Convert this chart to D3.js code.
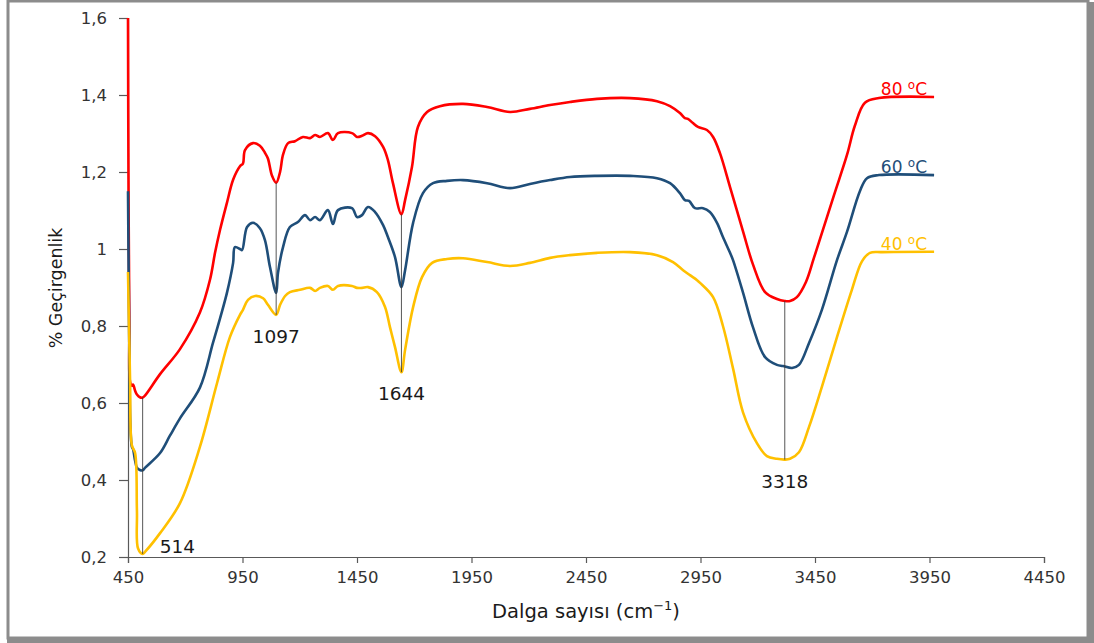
<!DOCTYPE html>
<html>
<head>
<meta charset="utf-8">
<script src="https://cdn.jsdelivr.net/npm/d3@7"></script>
<style>
  html, body { margin: 0; padding: 0; background: #ffffff; }
  svg { display: block; }
  text { font-family: "DejaVu Sans", Verdana, sans-serif; }
</style>
</head>
<body>
<svg id="chart" width="1094" height="643"></svg>
<script>
// FTIR transmittance spectra at three drying temperatures
const wn80 = [450, 452, 456, 459, 467, 472, 481, 489, 502, 514, 525, 590, 677, 764, 808, 830, 852, 882, 909, 939, 952, 961, 996, 1026, 1048, 1061, 1079, 1097, 1114, 1127, 1149, 1179, 1214, 1245, 1267, 1288, 1323, 1345, 1367, 1428, 1450, 1472, 1498, 1529, 1564, 1585, 1607, 1644, 1660, 1690, 1716, 1756, 1812, 1913, 2018, 2118, 2205, 2293, 2380, 2498, 2642, 2760, 2817, 2860, 2882, 2895, 2917, 2939, 2978, 3005, 3035, 3079, 3136, 3179, 3232, 3284, 3318, 3341, 3371, 3411, 3446, 3533, 3590, 3624, 3668, 3729, 3970];
const t80  = [1.60, 1.20, 0.80, 0.655, 0.645, 0.648, 0.632, 0.622, 0.615, 0.614, 0.620, 0.675, 0.740, 0.835, 0.920, 0.990, 1.050, 1.120, 1.180, 1.215, 1.222, 1.257, 1.275, 1.268, 1.250, 1.235, 1.190, 1.172, 1.200, 1.245, 1.275, 1.280, 1.291, 1.288, 1.296, 1.291, 1.301, 1.283, 1.301, 1.301, 1.291, 1.294, 1.301, 1.293, 1.265, 1.231, 1.171, 1.090, 1.127, 1.213, 1.317, 1.356, 1.371, 1.377, 1.369, 1.356, 1.364, 1.374, 1.382, 1.390, 1.392, 1.384, 1.371, 1.353, 1.340, 1.338, 1.327, 1.317, 1.309, 1.291, 1.249, 1.161, 1.045, 0.960, 0.888, 0.870, 0.865, 0.865, 0.875, 0.915, 0.978, 1.140, 1.245, 1.320, 1.380, 1.392, 1.395];

const wn60 = [450, 455, 460, 467, 472, 481, 489, 502, 514, 525, 590, 633, 677, 764, 821, 852, 882, 909, 917, 939, 948, 970, 996, 1026, 1048, 1070, 1097, 1105, 1127, 1157, 1192, 1223, 1245, 1267, 1288, 1323, 1345, 1367, 1428, 1450, 1472, 1498, 1529, 1564, 1585, 1616, 1644, 1660, 1695, 1738, 1782, 1843, 1913, 2018, 2118, 2205, 2293, 2380, 2498, 2642, 2760, 2817, 2860, 2882, 2900, 2926, 2961, 2991, 3022, 3048, 3079, 3092, 3136, 3179, 3232, 3284, 3310, 3350, 3380, 3424, 3480, 3546, 3590, 3646, 3677, 3729, 3970];
const t60  = [1.15, 0.80, 0.55, 0.486, 0.480, 0.450, 0.432, 0.426, 0.425, 0.432, 0.470, 0.515, 0.560, 0.640, 0.756, 0.820, 0.886, 0.964, 1.005, 1.000, 0.997, 1.057, 1.068, 1.054, 1.023, 0.953, 0.886, 0.938, 1.005, 1.057, 1.070, 1.088, 1.075, 1.083, 1.075, 1.101, 1.065, 1.101, 1.106, 1.083, 1.088, 1.109, 1.096, 1.062, 1.031, 0.979, 0.901, 0.945, 1.068, 1.145, 1.171, 1.177, 1.179, 1.171, 1.158, 1.169, 1.179, 1.187, 1.190, 1.190, 1.184, 1.171, 1.145, 1.127, 1.125, 1.106, 1.106, 1.096, 1.068, 1.031, 0.990, 0.971, 0.886, 0.797, 0.719, 0.699, 0.696, 0.691, 0.699, 0.756, 0.842, 0.971, 1.045, 1.150, 1.184, 1.192, 1.192];

const wn40 = [450, 459, 467, 481, 489, 494, 514, 525, 590, 677, 764, 839, 895, 939, 952, 974, 1005, 1040, 1061, 1097, 1114, 1136, 1157, 1201, 1245, 1267, 1288, 1323, 1345, 1367, 1428, 1450, 1472, 1498, 1537, 1572, 1594, 1616, 1644, 1660, 1695, 1734, 1778, 1843, 1913, 2018, 2118, 2205, 2293, 2380, 2498, 2642, 2760, 2830, 2874, 2904, 2935, 2948, 3005, 3048, 3092, 3136, 3197, 3240, 3284, 3318, 3341, 3380, 3424, 3480, 3546, 3611, 3655, 3690, 3742, 3970];
const t40  = [0.94, 0.66, 0.49, 0.470, 0.320, 0.222, 0.208, 0.214, 0.262, 0.340, 0.486, 0.652, 0.771, 0.829, 0.842, 0.868, 0.878, 0.872, 0.855, 0.829, 0.855, 0.878, 0.888, 0.894, 0.899, 0.891, 0.899, 0.904, 0.894, 0.904, 0.904, 0.899, 0.899, 0.901, 0.888, 0.850, 0.797, 0.745, 0.680, 0.738, 0.849, 0.927, 0.964, 0.974, 0.976, 0.966, 0.956, 0.964, 0.977, 0.984, 0.990, 0.992, 0.984, 0.966, 0.945, 0.932, 0.919, 0.912, 0.875, 0.800, 0.690, 0.575, 0.495, 0.462, 0.455, 0.453, 0.455, 0.472, 0.538, 0.642, 0.771, 0.894, 0.968, 0.990, 0.992, 0.993];

const seriesNames  = ["80", "60", "40"];
const seriesColors = ["#FF0000", "#1F4E79", "#FFC000"];

// Marked absorption bands (cm-1)
const peaks = [514, 1097, 1644, 3318];

const xTicks = [450, 950, 1450, 1950, 2450, 2950, 3450, 3950, 4450];
const yTicks = [0.2, 0.4, 0.6, 0.8, 1.0, 1.2, 1.4, 1.6];
const yTickLabels = ["0,2", "0,4", "0,6", "0,8", "1", "1,2", "1,4", "1,6"];

const W = 1094, H = 643;
const svg = d3.select("#chart");

// outer frame
svg.append("rect").attr("x", 0).attr("y", 0).attr("width", W).attr("height", H).attr("fill", "#ffffff");
svg.append("rect").attr("x", 1087).attr("y", 2).attr("width", 7).attr("height", 641).attr("fill", "#8c8c8c");
svg.append("rect").attr("x", 7).attr("y", 637).attr("width", 1087).attr("height", 6).attr("fill", "#8c8c8c");
svg.append("rect").attr("x", 8).attr("y", 1).attr("width", 1080).attr("height", 637)
  .attr("fill", "none").attr("stroke", "#8c8c8c").attr("stroke-width", 3);

const x = d3.scaleLinear().domain([450, 4450]).range([128, 1044]);
const y = d3.scaleLinear().domain([0.2, 1.6]).range([557, 18]);

// axes
const xAxis = d3.axisBottom(x).tickValues(xTicks).tickSize(6).tickPadding(8).tickFormat(d3.format("d"));
const yAxis = d3.axisLeft(y).tickValues(yTicks).tickSize(9).tickPadding(12)
  .tickFormat((d, i) => yTickLabels[i]);

const gx = svg.append("g").attr("transform", `translate(0,${y(0.2)})`).call(xAxis);
const gy = svg.append("g").attr("transform", `translate(${x(450)},0)`).call(yAxis);
[gx, gy].forEach(g => {
  g.select(".domain").attr("stroke", "#595959").attr("stroke-width", 1.2);
  g.selectAll(".tick line").attr("stroke", "#595959").attr("stroke-width", 1.2);
  g.selectAll(".tick text").attr("fill", "#333333").style("font-size", "16.5px")
    .style("font-family", "'DejaVu Sans', Verdana, sans-serif");
});

// axis titles
const xt = svg.append("text").attr("x", 586).attr("y", 618).attr("text-anchor", "middle")
  .attr("fill", "#1a1a1a").style("font-size", "19.5px");
xt.append("tspan").text("Dalga sayısı (cm");
xt.append("tspan").attr("dy", -8).style("font-size", "13px").text("−1");
xt.append("tspan").attr("dy", 8).text(")");

svg.append("text").attr("transform", "translate(62,288) rotate(-90)").attr("text-anchor", "middle")
  .attr("fill", "#1a1a1a").style("font-size", "17.5px").text("% Geçirgenlik");

// spectra
const data = [
  wn80.map((w, i) => [w, t80[i]]),
  wn60.map((w, i) => [w, t60[i]]),
  wn40.map((w, i) => [w, t40[i]])
];
const line = d3.line().x(d => x(d[0])).y(d => y(d[1])).curve(d3.curveCatmullRom.alpha(0.5));

svg.append("g").selectAll("path").data(data).join("path")
  .attr("d", line)
  .attr("fill", "none")
  .attr("stroke", (d, i) => seriesColors[i])
  .attr("stroke-width", 2.6)
  .attr("stroke-linejoin", "round");

// peak markers: thin line from the 80 °C band to the 40 °C band
const valueAt = (wns, ts, w) => ts[wns.indexOf(w)];
const ann = svg.append("g");
peaks.forEach((p, i) => {
  const top = valueAt(wn80, t80, p), bot = valueAt(wn40, t40, p);
  ann.append("line")
    .attr("x1", x(p)).attr("x2", x(p))
    .attr("y1", y(top)).attr("y2", y(bot))
    .attr("stroke", "#3a3a3a").attr("stroke-width", 1).attr("opacity", 0.85);
  const t = ann.append("text").attr("fill", "#1a1a1a").style("font-size", "18.5px").text(p);
  if (i === 0) {
    t.attr("x", x(p) + 17).attr("y", y(bot) - 1);
  } else {
    t.attr("x", x(p)).attr("y", y(bot) + 28).attr("text-anchor", "middle");
  }
});

// series labels at the end of each curve
data.forEach((d, i) => {
  const last = d[d.length - 1];
  const t = svg.append("text")
    .attr("x", x(last[0]) - 7).attr("y", y(last[1]) - 2)
    .attr("text-anchor", "end").attr("fill", seriesColors[i]).style("font-size", "17px");
  t.append("tspan").text(seriesNames[i] + " ");
  t.append("tspan").attr("dy", -6).style("font-size", "12px").text("o");
  t.append("tspan").attr("dy", 6).text("C");
});
</script>
</body>
</html>
